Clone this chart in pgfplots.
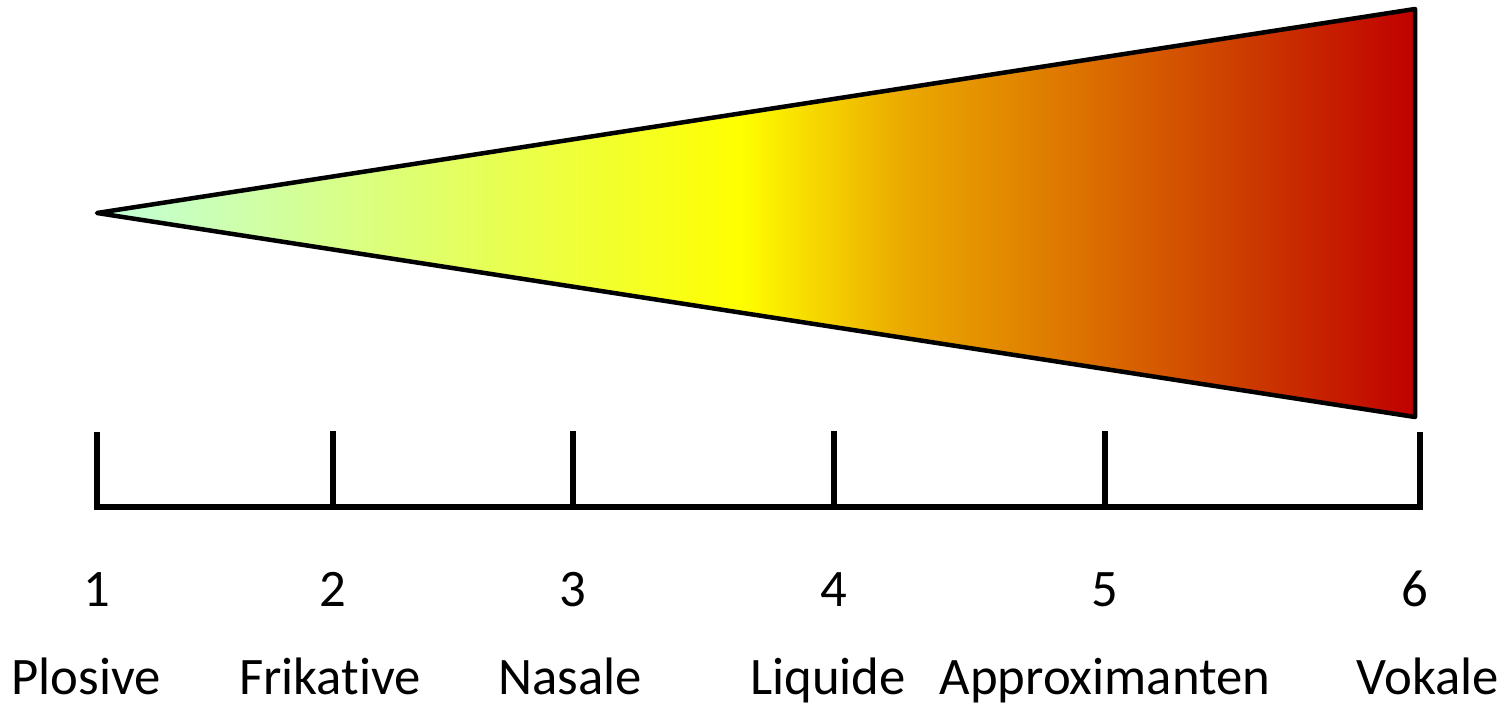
\documentclass[border=0pt]{standalone}
\usepackage{pgfplots}
\pgfplotsset{compat=1.18}
\usepackage{pgfplotstable}
\usepackage{fontspec}
\setmainfont{Carlito}[Ligatures=NoCommon]
\definecolor{cmint}{RGB}{192,255,220}
\definecolor{cyel}{RGB}{255,255,0}
\definecolor{corA}{RGB}{235,170,0}
\definecolor{corB}{RGB}{220,114,0}
\definecolor{corC}{RGB}{204,58,0}
\definecolor{cred}{RGB}{192,0,0}
\pgfdeclarehorizontalshading{wedge}{100bp}{color(0bp)=(cmint); color(25bp)=(cmint); color(49.4bp)=(cyel); color(55.5bp)=(corA); color(62.3bp)=(corB); color(68.7bp)=(corC); color(75bp)=(cred); color(100bp)=(cred)}

\pgfplotstableread{
x y
97 490
1415 694
1415 286
}\wedgetab

\pgfplotstableread{
x y
97 271
97 196
1420 196
1420 271
nan nan
333 272
333 196
nan nan
573 272
573 196
nan nan
834 272
834 196
nan nan
1105 272
1105 196
}\scaletab

\pgfplotstableread{
x y lab
97 97 1
333 97 2
573 97 3
834 97 4
1105 97 5
1415 97 6
}\numtab

\pgfplotstableread{
x y lab
86 9 Plosive
330 9 Frikative
570 9 Nasale
828 9 Liquide
1105 9 Approximanten
1428 9 Vokale
}\nametab

\begin{document}
\begin{tikzpicture}
\begin{axis}[
  scale only axis,
  width=151.1mm, height=70.3mm,
  xmin=0, xmax=1511, ymin=0, ymax=703,
  axis lines=none, ticks=none,
  clip=false,
]
\addplot[draw=none, mark=none] coordinates {(0,0) (1511,703)};
\addplot[shading=wedge, draw=black, line width=0.45mm, line join=round] table[x=x,y=y] {\wedgetab} -- cycle;
\addplot[black, line width=0.55mm, unbounded coords=jump, line join=miter] table[x=x,y=y] {\scaletab};
\addplot[only marks, mark=none, nodes near coords, point meta=explicit symbolic,
  every node near coord/.append style={anchor=base, font=\fontsize{15}{18}\selectfont, inner sep=0pt, yshift=0pt}]
  table[x=x,y=y,meta=lab] {\numtab};
\addplot[only marks, mark=none, nodes near coords, point meta=explicit symbolic,
  every node near coord/.append style={anchor=base, font=\fontsize{15}{18}\selectfont, inner sep=0pt, yshift=0pt}]
  table[x=x,y=y,meta=lab] {\nametab};
\end{axis}
\end{tikzpicture}
\end{document}
